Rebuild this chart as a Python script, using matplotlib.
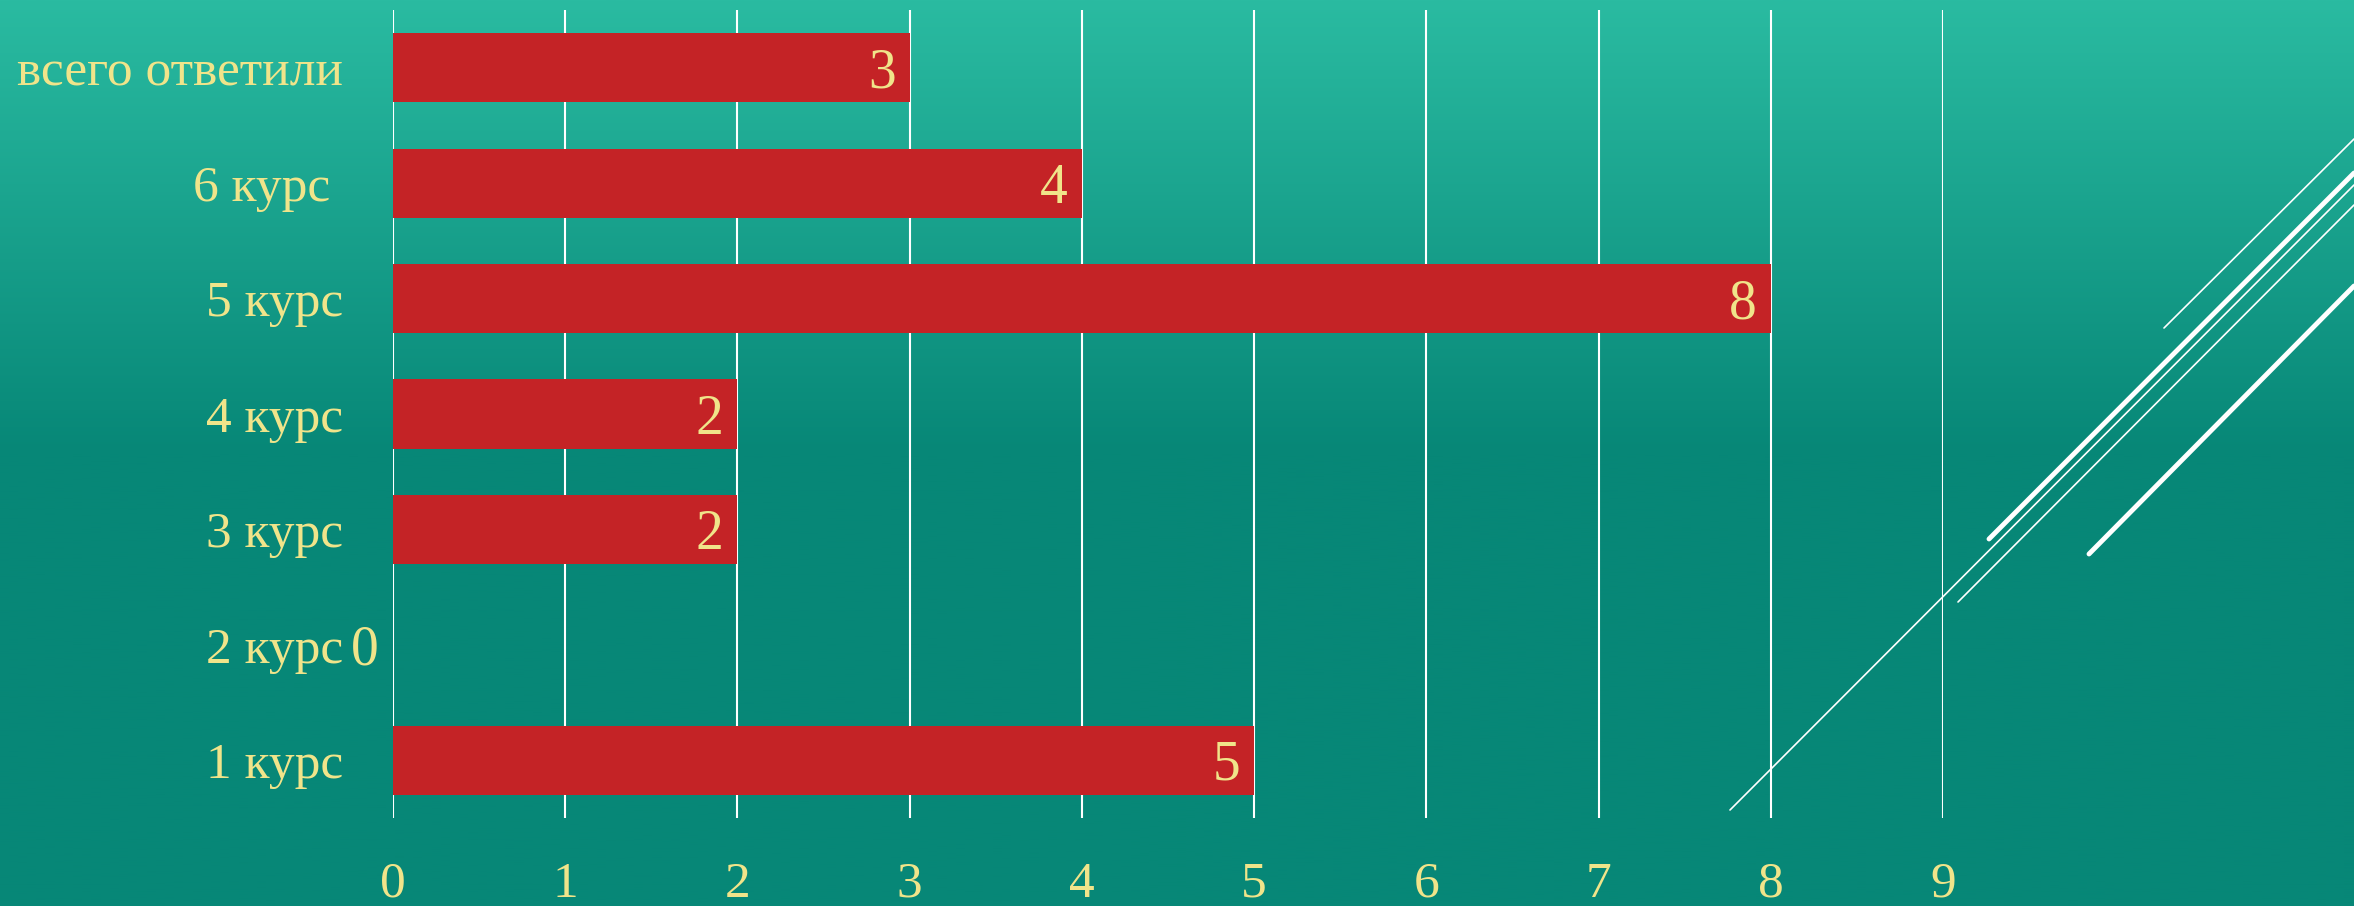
import numpy as np
import matplotlib.pyplot as plt
from matplotlib.lines import Line2D

# Data
categories = ['1 курс', '2 курс', '3 курс', '4 курс', '5 курс', '6 курс ', 'всего ответили']
counts = [5, 0, 2, 2, 8, 4, 3]
x_ticks = list(range(0, 10))

# Colours
bar_color = '#c42326'
text_color = '#f0e48a'
top_color = np.array([42, 187, 161]) / 255
bottom_color = np.array([7, 135, 119]) / 255

plt.rcParams['font.family'] = ['Liberation Serif', 'DejaVu Serif']

fig = plt.figure(figsize=(23.54, 9.06), dpi=100)

# Gradient background
bg = fig.add_axes([0, 0, 1, 1], zorder=-10)
t = np.clip(np.linspace(0, 1, 400) / 0.5, 0, 1)[:, None]
grad = top_color[None, :] * (1 - t) + bottom_color[None, :] * t
bg.imshow(grad[:, None, :], aspect='auto', extent=[0, 1, 0, 1], origin='upper')
bg.set_xlim(0, 1)
bg.set_ylim(0, 1)
bg.axis('off')

# Decorative diagonal lines (pixel coords, full image)
W, H = 2354, 906
deco = [
    ((1730, 810), (2354, 185), 1.2),
    ((1989, 539), (2354, 173), 3.5),
    ((1958, 602), (2354, 205), 1.2),
    ((2164, 328), (2354, 139), 1.2),
    ((2089, 554), (2354, 286), 3.5),
]
for (x0, y0), (x1, y1), lw in deco:
    fig.add_artist(Line2D([x0 / W, x1 / W], [1 - y0 / H, 1 - y1 / H],
                          transform=fig.transFigure, color='white', lw=lw,
                          solid_capstyle='round', zorder=-5))

ax = fig.add_axes([393 / W, 88 / H, 1550 / W, 808 / H])
ax.set_facecolor('none')

y = np.arange(len(categories))
ax.barh(y, counts, height=0.6, color=bar_color, zorder=3)

for yi, v in zip(y, counts):
    ax.annotate(str(v), (v, yi), xytext=(-10, -4), textcoords='offset points',
                ha='right', va='center', color=text_color, fontsize=40, zorder=4)

ax.set_xlim(0, 9)
ax.set_ylim(-0.5, len(categories) - 0.5)
ax.set_xticks(x_ticks)
ax.set_yticks(y)
ax.set_yticklabels(categories)
ax.tick_params(axis='x', length=0, pad=31, labelsize=37, labelcolor=text_color)
ax.tick_params(axis='y', length=0, pad=36, labelsize=37, labelcolor=text_color)
ax.grid(axis='x', color='white', lw=1.5, zorder=1)
ax.grid(axis='y', visible=False)
for s in ax.spines.values():
    s.set_visible(False)

fig.savefig('out.png', dpi=100)
